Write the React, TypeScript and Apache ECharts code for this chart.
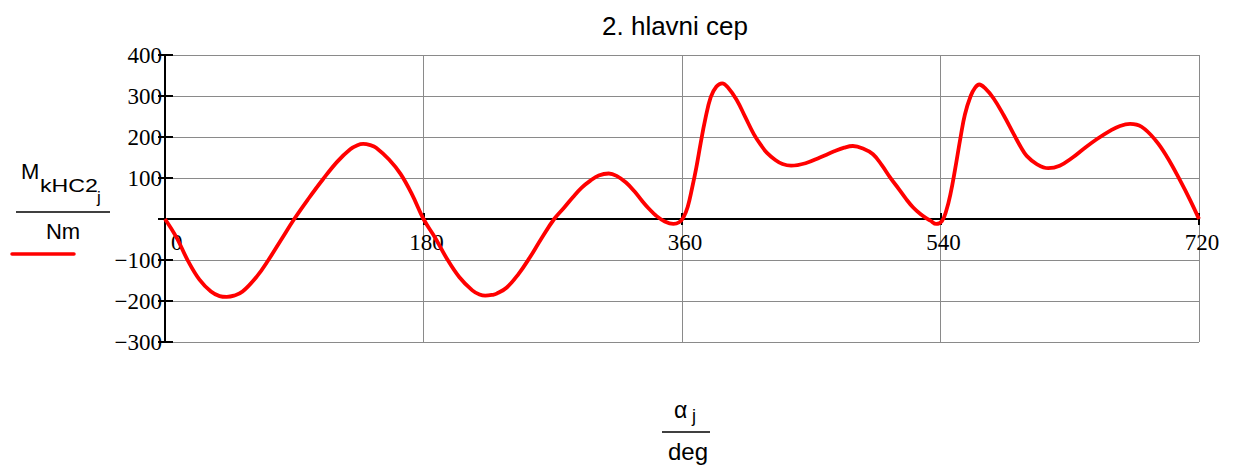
import React, { useEffect, useRef } from "react";
import * as echarts from "echarts";

const title = "2. hlavni cep";
const angles = [
  0, 8, 16, 24, 32, 38, 43, 48, 54, 64, 72, 81, 90, 100, 110, 120, 129, 134, 138, 143, 147, 156, 164, 172,
  180, 188, 196, 205, 214, 219, 223, 228, 231, 238, 246, 254, 262, 271, 278, 284, 290, 296, 302, 309, 315, 321, 327, 332, 337, 342, 348, 354, 358,
  361, 364, 367, 370, 373, 376, 380, 384, 388, 392, 398, 404, 410, 415, 419, 425, 430, 436, 446, 456, 466, 473, 479, 486, 493, 499, 505, 511, 516, 521, 526, 530, 533, 537,
  541, 544, 547, 550, 554, 557, 561, 564, 567, 571, 577, 584, 591, 596, 600, 607, 615, 623, 632, 640, 649, 658, 665, 672, 680, 690, 698, 707, 714, 720,
];
const moments = [
  0, -45, -102, -148, -177, -188, -190, -187, -177, -140, -100, -50, 0, 50, 97, 140, 170, 180, 183, 180, 174, 145, 110, 60,
  0, -45, -95, -142, -174, -184, -187, -185, -182, -167, -135, -94, -48, 0, 28, 53, 76, 93, 106, 111, 104, 89, 67, 45, 25, 8, -6, -12, -8,
  4, 30, 75, 126, 185, 240, 297, 323, 331, 321, 291, 249, 207, 180, 162, 144, 134, 130, 136, 150, 165, 174, 178, 172, 158, 132, 101, 73, 49, 28, 12, 2, -4, -12,
  -5, 20, 62, 118, 200, 255, 300, 320, 328, 319, 294, 253, 207, 175, 154, 134, 124, 130, 150, 172, 195, 215, 227, 232, 225, 191, 150, 93, 45, 0,
];
const xTicks = { min: 0, max: 720, interval: 180 };
const yTicks = { min: -300, max: 400, interval: 100 };

const serif = "'Liberation Serif', 'Times New Roman', serif";
const sans = "'Liberation Sans', Arial, sans-serif";

export default function App() {
  const ref = useRef<HTMLDivElement>(null);
  useEffect(() => {
    if (!ref.current) return;
    const chart = echarts.init(ref.current, null, { renderer: "svg" });
    const top = 55;
    const bottom = 124;
    const plotH = 466 - top - bottom;
    const zeroOffset = -(plotH * (0 - yTicks.min)) / (yTicks.max - yTicks.min);
    const gridRect = { left: 165, right: 34, top, bottom };
    const data = angles.map((a, i) => [a, moments[i]]);
    chart.setOption({
      animation: false,
      backgroundColor: "#ffffff",
      grid: [
        { ...gridRect, containLabel: false },
        { ...gridRect, containLabel: false },
      ],
      xAxis: [
        {
          type: "value",
          gridIndex: 0,
          ...xTicks,
          position: "bottom",
          offset: zeroOffset,
          axisLine: { show: true, onZero: false, lineStyle: { color: "#000", width: 2 } },
          axisTick: { show: true, inside: false, length: 6, lineStyle: { color: "#000", width: 2 } },
          axisLabel: {
            show: true,
            margin: 12,
            fontFamily: serif,
            fontSize: 23,
            color: "#000",
            alignMinLabel: "left",
            padding: [0, 0, 0, 6],
          },
          splitLine: { show: true, lineStyle: { color: "#8a8a8a", width: 1 } },
        },
        {
          type: "value",
          gridIndex: 1,
          ...xTicks,
          position: "bottom",
          offset: zeroOffset,
          axisLine: { show: false, onZero: false },
          axisTick: { show: true, inside: true, length: 6, lineStyle: { color: "#000", width: 2 } },
          axisLabel: { show: false },
          splitLine: { show: false },
        },
      ],
      yAxis: [
        {
          type: "value",
          gridIndex: 0,
          ...yTicks,
          axisLine: { show: true, onZero: false, lineStyle: { color: "#000", width: 2 } },
          axisTick: { show: true, inside: false, length: 7, lineStyle: { color: "#000", width: 2 } },
          axisLabel: {
            show: true,
            margin: 3,
            fontFamily: serif,
            fontSize: 23,
            color: "#000",
            padding: [12, 0, 0, 0],
            formatter: (v: number) => (v === 0 ? "" : String(v).replace("-", "\u2212")),
          },
          splitLine: { show: true, lineStyle: { color: "#8a8a8a", width: 1 } },
        },
        {
          type: "value",
          gridIndex: 1,
          ...yTicks,
          axisLine: { show: false, onZero: false },
          axisTick: { show: true, inside: true, length: 8, lineStyle: { color: "#000", width: 2 } },
          axisLabel: { show: false },
          splitLine: { show: false },
        },
      ],
      series: [
        {
          type: "line",
          xAxisIndex: 0,
          yAxisIndex: 0,
          data,
          smooth: 0.4,
          showSymbol: false,
          symbol: "none",
          lineStyle: { color: "#ff0000", width: 3.8 },
          z: 5,
        },
      ],
      graphic: [
        { type: "text", x: 675, y: 26, style: { text: title, font: `26px ${sans}`, fill: "#000", align: "center", verticalAlign: "middle" } },
        { type: "text", x: 21, y: 171, style: { text: "M", font: `22px ${sans}`, fill: "#000", align: "left", verticalAlign: "middle" } },
        { type: "text", x: 40, y: 185, scaleX: 1.22, style: { text: "kHC2", font: `19px ${sans}`, fill: "#000", align: "left", verticalAlign: "middle" } },
        { type: "text", x: 97, y: 197, style: { text: "j", font: `17px ${sans}`, fill: "#000", align: "left", verticalAlign: "middle" } },
        { type: "line", shape: { x1: 16, y1: 212, x2: 110, y2: 212 }, style: { stroke: "#000", lineWidth: 1.5 } },
        { type: "text", x: 63, y: 231, style: { text: "Nm", font: `22px ${sans}`, fill: "#000", align: "center", verticalAlign: "middle" } },
        { type: "line", shape: { x1: 12, y1: 254, x2: 74, y2: 254 }, style: { stroke: "#ff0000", lineWidth: 3.5, lineCap: "round" } },
        { type: "text", x: 674, y: 410, style: { text: "\u03b1", font: `23px ${sans}`, fill: "#000", align: "left", verticalAlign: "middle" } },
        { type: "text", x: 692, y: 416, style: { text: "j", font: `18px ${sans}`, fill: "#000", align: "left", verticalAlign: "middle" } },
        { type: "line", shape: { x1: 662, y1: 432, x2: 710, y2: 432 }, style: { stroke: "#000", lineWidth: 1.5 } },
        { type: "text", x: 688, y: 451, style: { text: "deg", font: `24px ${sans}`, fill: "#000", align: "center", verticalAlign: "middle" } },
      ],
    });
    return () => chart.dispose();
  }, []);
  return <div ref={ref} style={{ width: 1233, height: 466, position: "absolute", left: 0, top: 0 }} />;
}
